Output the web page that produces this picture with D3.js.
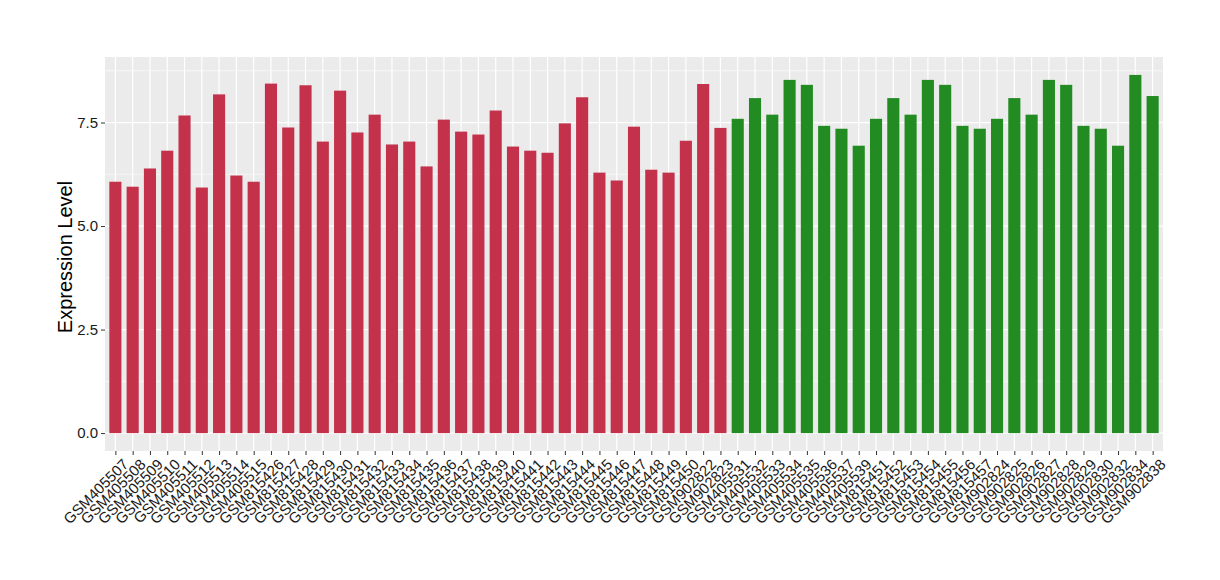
<!DOCTYPE html>
<html>
<head>
<meta charset="utf-8">
<script src="https://cdn.jsdelivr.net/npm/d3@7/dist/d3.min.js"></script>
<style>
  body { margin: 0; background: #fff; }
  text { font-family: "Liberation Sans", Arial, Helvetica, sans-serif; }
</style>
</head>
<body>
<svg id="chart" width="1220" height="580"></svg>
<script>
const samples = [
  "GSM405507","GSM405508","GSM405509","GSM405510","GSM405511","GSM405512","GSM405513","GSM405514","GSM405515",
  "GSM815426","GSM815427","GSM815428","GSM815429","GSM815430","GSM815431","GSM815432","GSM815433","GSM815434",
  "GSM815435","GSM815436","GSM815437","GSM815438","GSM815439","GSM815440","GSM815441","GSM815442","GSM815443",
  "GSM815444","GSM815445","GSM815446","GSM815447","GSM815448","GSM815449","GSM815450","GSM902822","GSM902823",
  "GSM405531","GSM405532","GSM405533","GSM405534","GSM405535","GSM405536","GSM405537","GSM405539",
  "GSM815451","GSM815452","GSM815453","GSM815454","GSM815455","GSM815456","GSM815457",
  "GSM902824","GSM902825","GSM902826","GSM902827","GSM902828","GSM902829","GSM902830",
  "GSM902832","GSM902834","GSM902838"
];
const values = [
  6.07,5.95,6.39,6.82,7.67,5.93,8.18,6.22,6.07,
  8.44,7.38,8.40,7.04,8.27,7.26,7.69,6.97,7.04,
  6.44,7.57,7.28,7.21,7.79,6.92,6.82,6.77,7.48,
  8.11,6.29,6.10,7.40,6.36,6.29,7.06,8.43,7.37,
  7.59,8.09,7.69,8.53,8.41,7.42,7.35,6.94,
  7.59,8.09,7.69,8.53,8.41,7.42,7.35,
  7.59,8.09,7.69,8.53,8.41,7.42,7.35,
  6.94,8.65,8.14
];
const groups = [
  "A","A","A","A","A","A","A","A","A",
  "A","A","A","A","A","A","A","A","A",
  "A","A","A","A","A","A","A","A","A",
  "A","A","A","A","A","A","A","A","A",
  "B","B","B","B","B","B","B","B",
  "B","B","B","B","B","B","B",
  "B","B","B","B","B","B","B",
  "B","B","B"
];
const groupColors = { A: "#C3314A", B: "#228B22" };
const yTicks = [0, 2.5, 5.0, 7.5];
const yMinor = [1.25, 3.75, 6.25, 8.75];
const yTitle = "Expression Level";

const svg = d3.select("#chart");
const panel = { left: 105, right: 1163, top: 57, bottom: 451 };

const n = samples.length;
const xLin = d3.scaleLinear()
  .domain([-0.6, n - 1 + 0.6])
  .range([panel.left, panel.right]);
const x = d => xLin(samples.indexOf(d));
const step = xLin(1) - xLin(0);
const barW = step * 0.7;

const maxV = d3.max(values);
const pad = maxV * 0.05;
const y = d3.scaleLinear()
  .domain([-pad, maxV + pad])
  .range([panel.bottom, panel.top]);

svg.append("rect")
  .attr("x", panel.left).attr("y", panel.top)
  .attr("width", panel.right - panel.left)
  .attr("height", panel.bottom - panel.top)
  .attr("fill", "#EBEBEB");

svg.append("g").selectAll("line").data(yMinor).join("line")
  .attr("x1", panel.left).attr("x2", panel.right)
  .attr("y1", d => y(d)).attr("y2", d => y(d))
  .attr("stroke", "#fff").attr("stroke-width", 0.6);

svg.append("g").selectAll("line").data(yTicks).join("line")
  .attr("x1", panel.left).attr("x2", panel.right)
  .attr("y1", d => y(d)).attr("y2", d => y(d))
  .attr("stroke", "#fff").attr("stroke-width", 1.2);

svg.append("g").selectAll("line").data(samples).join("line")
  .attr("x1", d => x(d)).attr("x2", d => x(d))
  .attr("y1", panel.top).attr("y2", panel.bottom)
  .attr("stroke", "#fff").attr("stroke-width", 1.2);

svg.append("g").selectAll("rect").data(samples).join("rect")
  .attr("x", d => x(d) - barW / 2)
  .attr("width", barW)
  .attr("y", (d, i) => y(values[i]))
  .attr("height", (d, i) => y(0) - y(values[i]))
  .attr("fill", (d, i) => groupColors[groups[i]]);

const yAxis = d3.axisLeft(y).tickValues(yTicks).tickFormat(d3.format(".1f")).tickSize(4).tickPadding(3);
const gy = svg.append("g").attr("transform", `translate(${panel.left},0)`).call(yAxis);
gy.attr("font-size", null).attr("font-family", null);
gy.select(".domain").remove();
gy.selectAll(".tick line").attr("stroke", "#333").attr("stroke-width", 1);
gy.selectAll(".tick text").attr("fill", "#1a1a1a").style("font-size", "15px");

const xAxis = d3.axisBottom(xLin).tickValues(d3.range(n)).tickFormat(i => samples[i]).tickSize(4);
const gx = svg.append("g").attr("transform", `translate(0,${panel.bottom})`).call(xAxis);
gx.attr("font-size", null).attr("font-family", null);
gx.select(".domain").remove();
gx.selectAll(".tick line").attr("stroke", "#333").attr("stroke-width", 1);
gx.selectAll(".tick text")
  .attr("fill", "#1a1a1a")
  .style("font-size", "15px")
  .attr("text-anchor", "end")
  .attr("x", 0).attr("y", 0)
  .attr("transform", "translate(6,7) rotate(-45)")
  .attr("dy", "0.7em");

svg.append("text")
  .attr("transform", `translate(72,${(panel.top + panel.bottom) / 2 + 3}) rotate(-90)`)
  .attr("text-anchor", "middle")
  .attr("fill", "#000")
  .style("font-size", "20px")
  .text(yTitle);
</script>
</body>
</html>
